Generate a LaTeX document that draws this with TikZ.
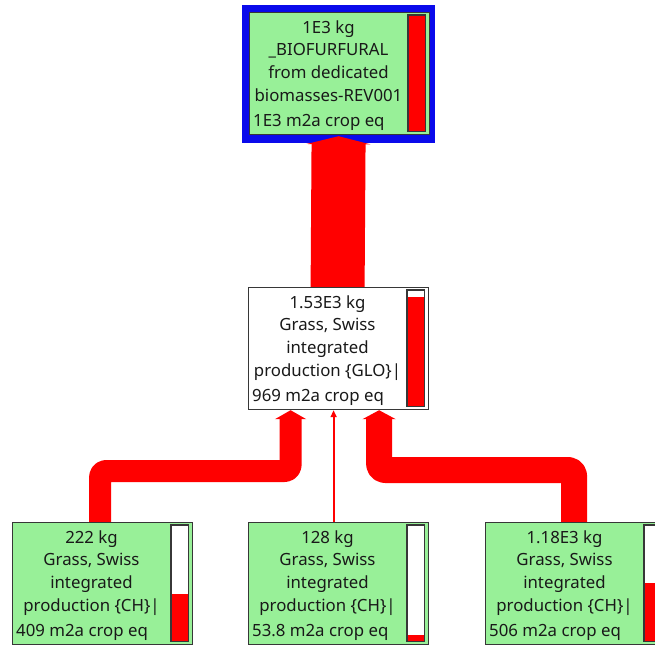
\documentclass[tikz,border=0pt]{standalone}
\usepackage{fontspec}
\setmainfont{Noto Sans}
\usetikzlibrary{arrows.meta,calc}

\definecolor{procgreen}{RGB}{152,240,152}
\definecolor{flowred}{RGB}{255,0,0}
\definecolor{selblue}{RGB}{10,10,235}
\definecolor{edgegray}{RGB}{55,55,55}

\pgfdeclarelayer{back}
\pgfdeclarelayer{flows}
\pgfsetlayers{back,flows,main}

\tikzset{
  procbox/.style={draw=edgegray, line width=1.2pt, inner sep=0pt, anchor=north west,
    minimum width=180pt, minimum height=122pt},
  barbox/.style={fill=white, inner sep=0pt, anchor=north west,
    minimum width=17pt, minimum height=116pt},
  barframe/.style={draw=edgegray, line width=1.2pt},
  txt/.style={inner sep=0pt, font=\fontsize{16.8}{19}\selectfont, text=black!90},
  flow/.style={draw=flowred, line cap=butt, line join=round, rounded corners=6pt},
}

% process box: name, left, top, fill, level of the bar, centred lines, last line
\newcommand\procnode[7]{%
  \node[procbox, fill=#4] (#1) at (#2,#3) {};
  \pgfmathsetmacro\barleft{#2+180-21}
  \pgfmathsetmacro\bartop{#3+3}
  \node[barbox] (#1-bar) at (\barleft,\bartop) {};
  \pgfmathsetmacro\redh{#5*116}
  \fill[flowred] (#1-bar.south west) rectangle ([yshift=\redh pt]#1-bar.south east);
  \draw[barframe] (#1-bar.south west) rectangle (#1-bar.north east);
  \pgfmathsetmacro\cx{#2+79.5}
  \foreach \ln [count=\i] in {#6} {%
    \pgfmathsetmacro\ly{#3+21+(\i-1)*22.8}
    \node[txt, anchor=base] (#1-l\i) at (\cx,\ly) {\ln};
  }
  \pgfmathsetmacro\lx{#2+4}
  \pgfmathsetmacro\lly{#3+114}
  \node[txt, anchor=base west] (#1-last) at (\lx,\lly) {#7};
}

\begin{document}
\begin{tikzpicture}[x=1pt, y=-1pt]
  \useasboundingbox (0,0) rectangle (655,645);
  \begin{pgfonlayer}{back}
    \fill[white] (0,0) rectangle (655,645);
  \end{pgfonlayer}
  \clip (0,0) rectangle (655,645);

  % process boxes
  \procnode{top}{249}{12}{procgreen}{1}
    {{1E3 kg},{\_BIOFURFURAL},{from dedicated},{biomasses-REV001}}{1E3 m2a crop eq}
  \procnode{mid}{248}{287}{white}{0.94}
    {{1.53E3 kg},{Grass, Swiss},{integrated},{production \{GLO\}|}}{969 m2a crop eq}
  \procnode{chA}{12}{522}{procgreen}{0.41}
    {{222 kg},{Grass, Swiss},{integrated},{production \{CH\}|}}{409 m2a crop eq}
  \procnode{chB}{248}{522}{procgreen}{0.055}
    {{128 kg},{Grass, Swiss},{integrated},{production \{CH\}|}}{53.8 m2a crop eq}
  \procnode{chC}{485}{522}{procgreen}{0.50}
    {{1.18E3 kg},{Grass, Swiss},{integrated},{production \{CH\}|}}{506 m2a crop eq}

  % selection frame around the final product
  \begin{pgfonlayer}{back}
    \fill[selblue] ($(top.north west)+(-7,-7)$) rectangle ($(top.south east)+(5,8)$);
  \end{pgfonlayer}

  % flows
  \coordinate (busA) at (0,471);
  \coordinate (busC) at (0,470);
  \begin{pgfonlayer}{flows}
    \draw[flow, line width=54pt, -{Triangle[length=8pt 0, width=64pt 0]}]
      ([xshift=-1pt]mid.north) -- ([xshift=-1pt, yshift=-1pt]top.south);
    \draw[flow, line width=22pt, -{Triangle[length=9pt 0, width=31pt 0]}]
      ([xshift=-2.5pt]chA.north) -- ([xshift=-2.5pt]chA.north |- busA)
      -| ([xshift=-48pt]mid.south);
    \draw[flow, line width=2.2pt, -{Triangle[length=7pt 0, width=6pt 0]}]
      ([xshift=-5pt]chB.north) -- ([xshift=-5pt]mid.south);
    \draw[flow, line width=26pt, -{Triangle[length=9pt 0, width=33pt 0]}]
      ([xshift=-1.5pt]chC.north) -- ([xshift=-1.5pt]chC.north |- busC)
      -| ([xshift=40.5pt]mid.south);
  \end{pgfonlayer}
\end{tikzpicture}
\end{document}
